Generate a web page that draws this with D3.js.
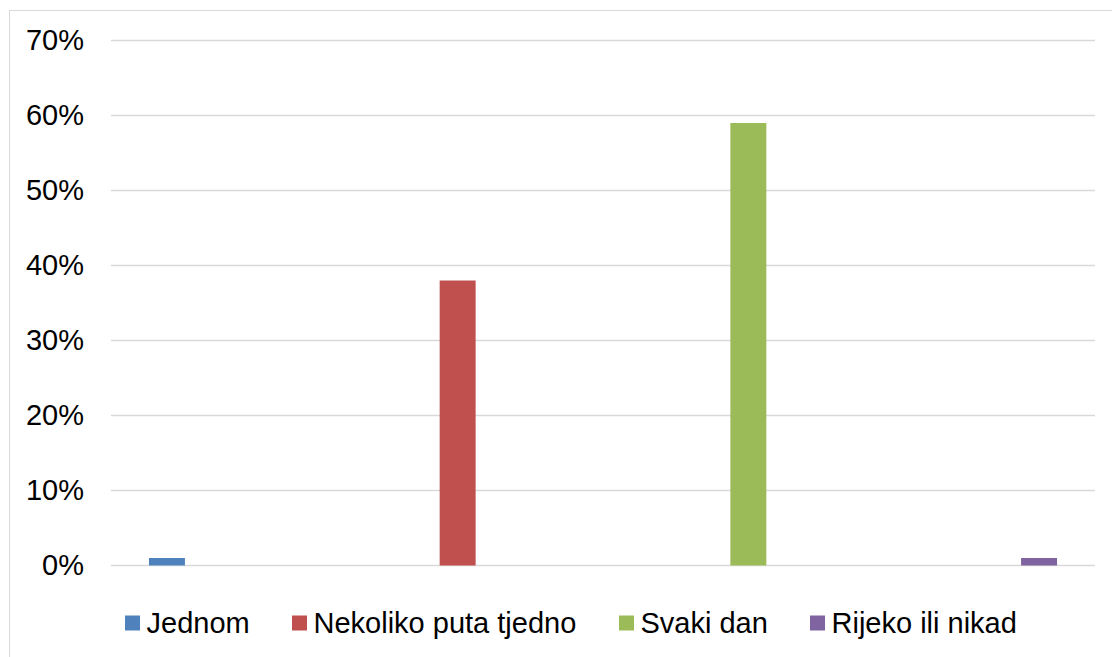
<!DOCTYPE html>
<html><head><meta charset="utf-8">
<script src="https://cdn.jsdelivr.net/npm/d3@7"></script>
<style>body{margin:0;background:#fff}svg{display:block;font-family:"Liberation Sans",Arial,sans-serif}</style>
</head><body><svg id="c" width="1112" height="657"></svg>
<script>
const series = ["Jednom", "Nekoliko puta tjedno", "Svaki dan", "Rijeko ili nikad"];
const values = [0.01, 0.38, 0.59, 0.01];
const colors = ["#4F81BD", "#C0504D", "#9BBB59", "#8064A2"];
const yTicks = [0, 0.1, 0.2, 0.3, 0.4, 0.5, 0.6, 0.7];

const svg = d3.select("#c");
svg.append("rect").attr("x", 9.5).attr("y", 10.5).attr("width", 1110).attr("height", 660)
  .attr("fill", "none").attr("stroke", "#d9d9d9").attr("stroke-width", 1);

const x = d3.scaleBand().domain(series).range([111, 1095]).paddingInner(0.8763).paddingOuter(0.1306);
const y = d3.scaleLinear().domain([0, 0.7]).range([565.5, 40.5]);

const grid = svg.append("g");
grid.selectAll("line").data(yTicks).join("line")
  .attr("x1", 111).attr("x2", 1095).attr("y1", d => y(d)).attr("y2", d => y(d))
  .attr("stroke", "#d9d9d9").attr("stroke-width", 1.5);

const yAxis = svg.append("g").attr("transform", "translate(84,0)")
  .call(d3.axisLeft(y).tickValues(yTicks).tickFormat(d3.format(".0%")).tickSize(0).tickPadding(0));
yAxis.select(".domain").remove();
yAxis.selectAll("text").attr("font-size", 29).attr("fill", "#000").attr("font-family", "Liberation Sans, Arial, sans-serif");

svg.append("g").selectAll("rect").data(series).join("rect")
  .attr("x", d => x(d)).attr("width", x.bandwidth())
  .attr("y", (d, i) => y(values[i])).attr("height", (d, i) => y(0) - y(values[i]))
  .attr("fill", (d, i) => colors[i]);

const legendX = [125, 292, 619, 810];
const lg = svg.append("g");
series.forEach((s, i) => {
  lg.append("rect").attr("x", legendX[i]).attr("y", 615.5).attr("width", 15).attr("height", 15).attr("fill", colors[i]);
  lg.append("text").attr("x", legendX[i] + 21.5).attr("y", 633).attr("font-size", 29).attr("fill", "#000").text(s);
});
</script></body></html>
